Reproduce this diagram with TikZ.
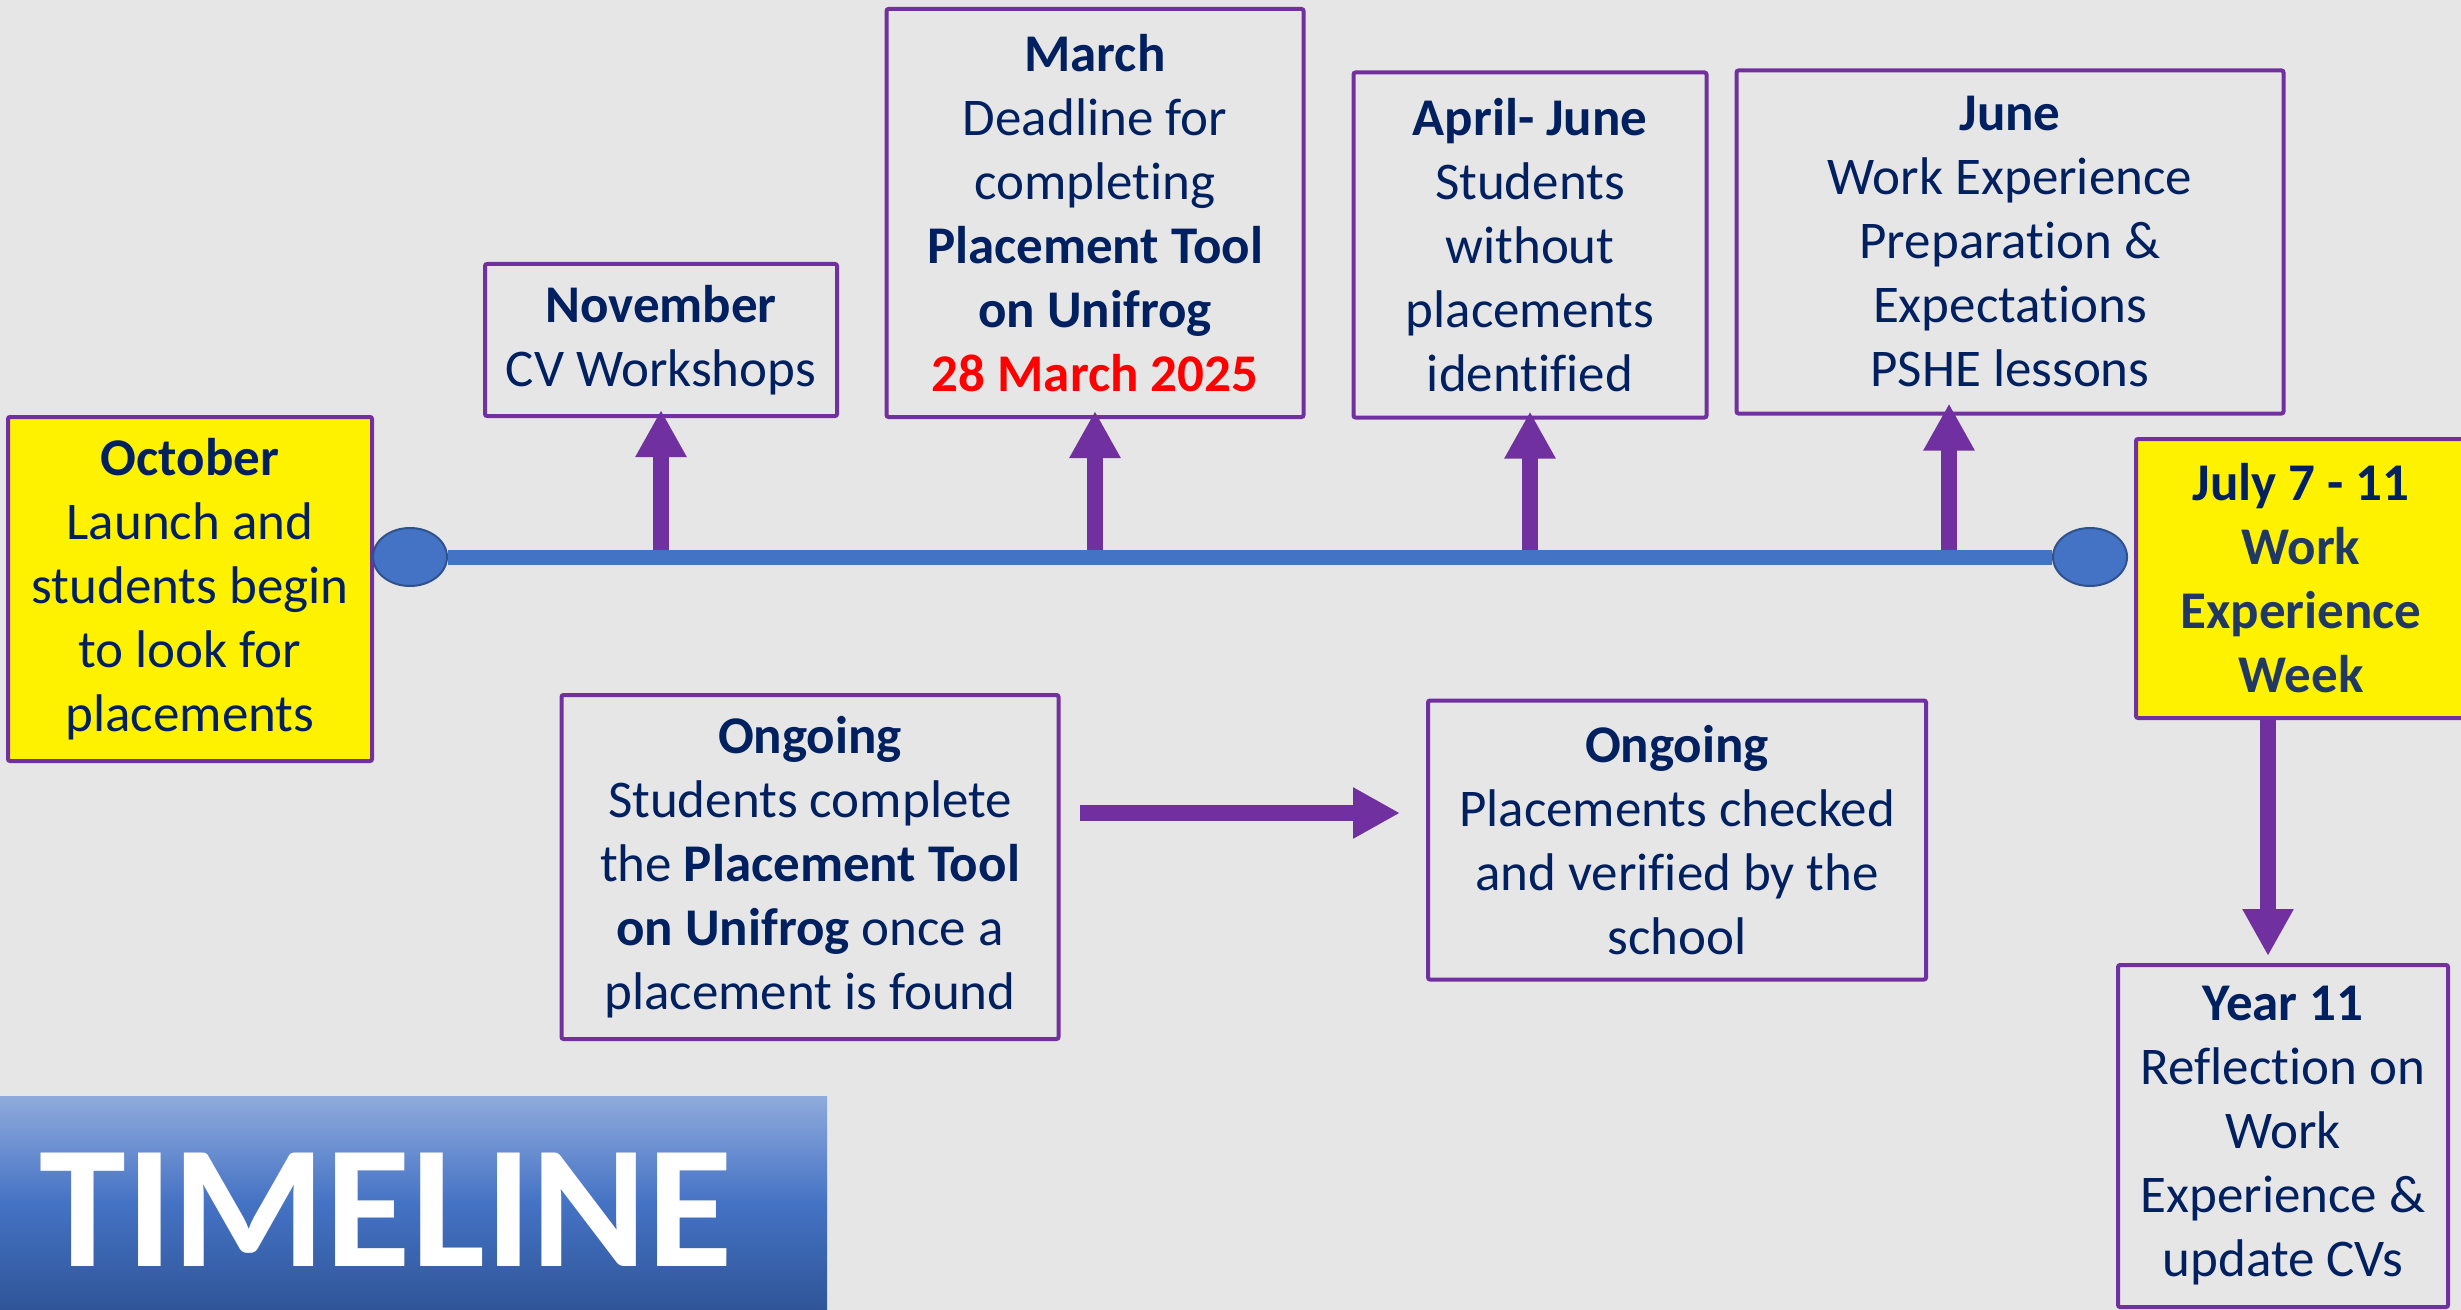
\documentclass[tikz,border=0pt]{standalone}
\usepackage{fontspec}
\setmainfont{Carlito}[Ligatures=CommonOff]
\usetikzlibrary{arrows.meta, shapes.geometric}
\usepackage{xcolor}
\definecolor{wkgrey}{HTML}{E7E6E6}
\definecolor{wkpurple}{HTML}{7030A0}
\definecolor{wknavy}{HTML}{002060}
\definecolor{wkdeep}{HTML}{1F3864}
\definecolor{wkblue}{HTML}{4472C4}
\definecolor{wkedge}{HTML}{2F528F}
\definecolor{wklight}{HTML}{8FAADC}
\definecolor{wkdark}{HTML}{2F5597}

\begin{document}
\begin{tikzpicture}[x=0.5pt, y=-0.5pt,
  event/.style={draw=wkpurple, line width=2pt, rounded corners=1pt, text=wknavy, align=center, inner sep=0pt, font=\fontsize{26.5}{32}\selectfont},
  keydate/.style={event, fill=yellow},
  dot/.style={ellipse, fill=wkblue, draw=wkedge, line width=1pt, minimum width=37pt, minimum height=29pt, inner sep=0pt},
  upto/.style={draw=wkpurple, line width=8pt, -{Triangle[width=24pt, length=23.5pt]}},
  banner/.style={top color=wklight, bottom color=wkdark, middle color=wkblue, inner sep=0pt}]
\useasboundingbox (0,0) rectangle (2461,1310);
\fill[wkgrey] (0,0) rectangle (2461,1310);
\clip (0,0) rectangle (2461,1310);

\node[keydate, minimum width=182pt, minimum height=172pt] (oct) at (190,589) {\textbf{October}\\Launch and\\students begin\\to look for\\placements};
\node[event, minimum width=176pt, minimum height=76pt] (nov) at (661,340) {\textbf{November}\\CV Workshops};
\node[event, minimum width=208.5pt, minimum height=204pt] (mar) at (1095,213) {\textbf{March}\\Deadline for\\completing\\\textbf{Placement Tool}\\\textbf{on Unifrog}\\\textcolor{red}{\textbf{28 March 2025}}};
\node[event, minimum width=176.5pt, minimum height=172.5pt] (apr) at (1530,245) {\textbf{April- June}\\Students\\without\\placements\\identified};
\node[event, minimum width=273.5pt, minimum height=171.5pt] (jun) at (2010,242) {\textbf{June}\\Work Experience\\Preparation \&\\Expectations\\PSHE lessons};
\node[keydate, minimum width=165pt, minimum height=139.5pt] (jul) at (2301,578.5) {\textbf{July 7 - 11}\\\textcolor{wkdeep}{\textbf{Work}}\\\textcolor{wkdeep}{\textbf{Experience}}\\\textcolor{wkdeep}{\textbf{Week}}};
\node[event, minimum width=165pt, minimum height=171pt] (y11) at (2283,1136) {\textbf{Year 11}\\Reflection on\\Work\\Experience \&\\update CVs};
\node[event, minimum width=248.5pt, minimum height=172pt] (found) at (810,867) {\textbf{Ongoing}\\Students complete\\the \textbf{Placement Tool}\\\textbf{on Unifrog} once a\\placement is found};
\node[event, minimum width=249pt, minimum height=139.5pt] (check) at (1677,840) {\textbf{Ongoing}\\Placements checked\\and verified by the\\school};

\node[dot] (start) at (410,557) {};
\node[dot] (finish) at (2090,557) {};

\draw[upto, shorten >=-4pt] (nov.south |- start) -- (nov.south);
\draw[upto, shorten >=-4pt] (mar.south |- start) -- (mar.south);
\draw[upto, shorten >=-4pt] (apr.south |- start) -- (apr.south);
\draw[upto, shorten >=-6pt] ([xshift=-30.5pt]jun.south |- start) -- ([xshift=-30.5pt]jun.south);
\draw[wkblue, line width=7.5pt] (start) -- (finish);

\draw[upto, shorten >=3.5pt] ([xshift=-16.5pt]jul.south) -- ([xshift=-16.5pt]jul.south |- y11.north);
\draw[upto] ([xshift=9.5pt, yshift=27pt]found.east) -- ([xshift=-13pt, yshift=13.5pt]check.west);

\node[banner, minimum width=413.5pt, minimum height=107pt] (title) at (413.5,1203.5) {};
\node[text=white, font=\fontsize{87.5}{87.5}\selectfont\bfseries] (titletext) at (386,1210) {TIMELINE};
\end{tikzpicture}
\end{document}
